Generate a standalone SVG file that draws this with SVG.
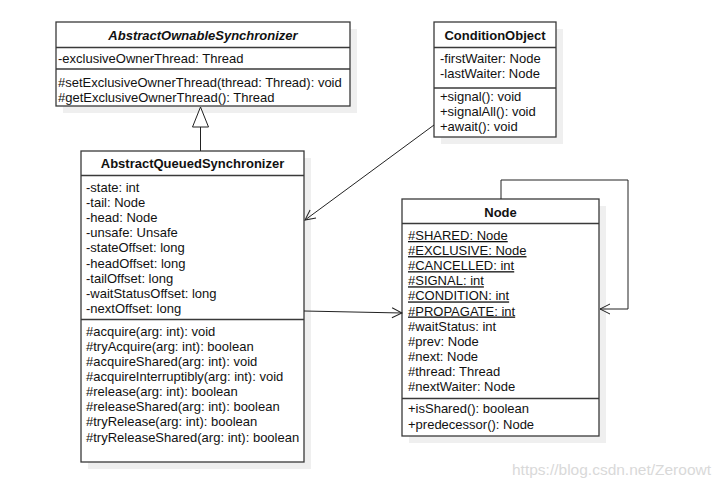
<svg xmlns="http://www.w3.org/2000/svg" width="724" height="490" viewBox="0 0 724 490">
<defs>
<style>
text{font-family:"Liberation Sans",Arial,sans-serif;font-size:13px;fill:#111}
.t{font-weight:bold;text-anchor:middle}
.ti{font-weight:bold;font-style:italic;text-anchor:middle}
.box{fill:#fff;stroke:#3a3a3a;stroke-width:1.3}
.sh{fill:#efefef}
.sep{stroke:#3a3a3a;stroke-width:1.3}
.u{text-decoration:underline}
.c{fill:none;stroke:#222;stroke-width:1}
.wm{fill:#d9d9d9;font-size:15.5px}
</style>
<marker id="open" viewBox="0 0 12 12" refX="11" refY="6" markerWidth="12" markerHeight="12" markerUnits="userSpaceOnUse" orient="auto">
<path d="M1,1 L11,6 L1,11" fill="none" stroke="#222" stroke-width="1"/>
</marker>
</defs>
<rect width="724" height="490" fill="#fff"/>

<g id="AbstractOwnableSynchronizer">
<rect class="sh" x="63" y="29" width="294" height="84"/>
<rect class="box" x="56" y="22" width="294" height="84"/>
<line class="sep" x1="56" y1="47.5" x2="350" y2="47.5"/>
<line class="sep" x1="56" y1="69" x2="350" y2="69"/>
<text class="ti" x="203" y="40">AbstractOwnableSynchronizer</text>
<text x="58" y="62.5">-exclusiveOwnerThread: Thread</text>
<text x="58" y="86.5">#setExclusiveOwnerThread(thread: Thread): void</text>
<text x="58" y="101.5">#getExclusiveOwnerThread(): Thread</text>
</g>

<g id="ConditionObject">
<rect class="sh" x="441" y="29" width="122" height="115"/>
<rect class="box" x="434" y="22" width="122" height="115"/>
<line class="sep" x1="434" y1="47.5" x2="556" y2="47.5"/>
<line class="sep" x1="434" y1="88" x2="556" y2="88"/>
<text class="t" x="495" y="40">ConditionObject</text>
<text x="440" y="63">-firstWaiter: Node</text>
<text x="440" y="78">-lastWaiter: Node</text>
<text x="440" y="100.5">+signal(): void</text>
<text x="440" y="115.5">+signalAll(): void</text>
<text x="440" y="130.5">+await(): void</text>
</g>

<g id="AbstractQueuedSynchronizer">
<rect class="sh" x="88" y="158" width="223" height="311"/>
<rect class="box" x="81" y="151" width="223" height="311"/>
<line class="sep" x1="81" y1="175.5" x2="304" y2="175.5"/>
<line class="sep" x1="81" y1="319.5" x2="304" y2="319.5"/>
<text class="t" x="192.5" y="168">AbstractQueuedSynchronizer</text>
<text x="86" y="191.5">-state: int</text>
<text x="86" y="206.7">-tail: Node</text>
<text x="86" y="221.9">-head: Node</text>
<text x="86" y="237.1">-unsafe: Unsafe</text>
<text x="86" y="252.3">-stateOffset: long</text>
<text x="86" y="267.5">-headOffset: long</text>
<text x="86" y="282.7">-tailOffset: long</text>
<text x="86" y="297.9">-waitStatusOffset: long</text>
<text x="86" y="313.1">-nextOffset: long</text>
<text x="86" y="335.5">#acquire(arg: int): void</text>
<text x="86" y="350.6">#tryAcquire(arg: int): boolean</text>
<text x="86" y="365.8">#acquireShared(arg: int): void</text>
<text x="86" y="380.9">#acquireInterruptibly(arg: int): void</text>
<text x="86" y="396.1">#release(arg: int): boolean</text>
<text x="86" y="411.2">#releaseShared(arg: int): boolean</text>
<text x="86" y="426.3">#tryRelease(arg: int): boolean</text>
<text x="86" y="441.5">#tryReleaseShared(arg: int): boolean</text>
</g>

<g id="Node">
<rect class="sh" x="409" y="206" width="197" height="237"/>
<rect class="box" x="402" y="199" width="197" height="237"/>
<line class="sep" x1="402" y1="223.5" x2="599" y2="223.5"/>
<line class="sep" x1="402" y1="398.5" x2="599" y2="398.5"/>
<text class="t" x="500.5" y="216.5">Node</text>
<text class="u" x="408" y="240">#SHARED: Node</text>
<text class="u" x="408" y="255.1">#EXCLUSIVE: Node</text>
<text class="u" x="408" y="270.2">#CANCELLED: int</text>
<text class="u" x="408" y="285.3">#SIGNAL: int</text>
<text class="u" x="408" y="300.4">#CONDITION: int</text>
<text class="u" x="408" y="315.5">#PROPAGATE: int</text>
<text x="408" y="330.6">#waitStatus: int</text>
<text x="408" y="345.7">#prev: Node</text>
<text x="408" y="360.8">#next: Node</text>
<text x="408" y="375.9">#thread: Thread</text>
<text x="408" y="391">#nextWaiter: Node</text>
<text x="408" y="413">+isShared(): boolean</text>
<text x="408" y="429">+predecessor(): Node</text>
</g>

<g id="connectors">
<line class="c" x1="200.5" y1="127" x2="200.5" y2="151"/>
<polygon points="200.5,107 208.5,127 192.5,127" fill="#fff" stroke="#222" stroke-width="1"/>
<line class="c" x1="434" y1="125" x2="305" y2="220" marker-end="url(#open)"/>
<line class="c" x1="304" y1="311" x2="402" y2="313" marker-end="url(#open)"/>
<path class="c" d="M501,199 V180 H628 V309 H600" marker-end="url(#open)"/>
</g>

<text class="wm" x="512" y="475">https://blog.csdn.net/Zeroowt</text>
</svg>
